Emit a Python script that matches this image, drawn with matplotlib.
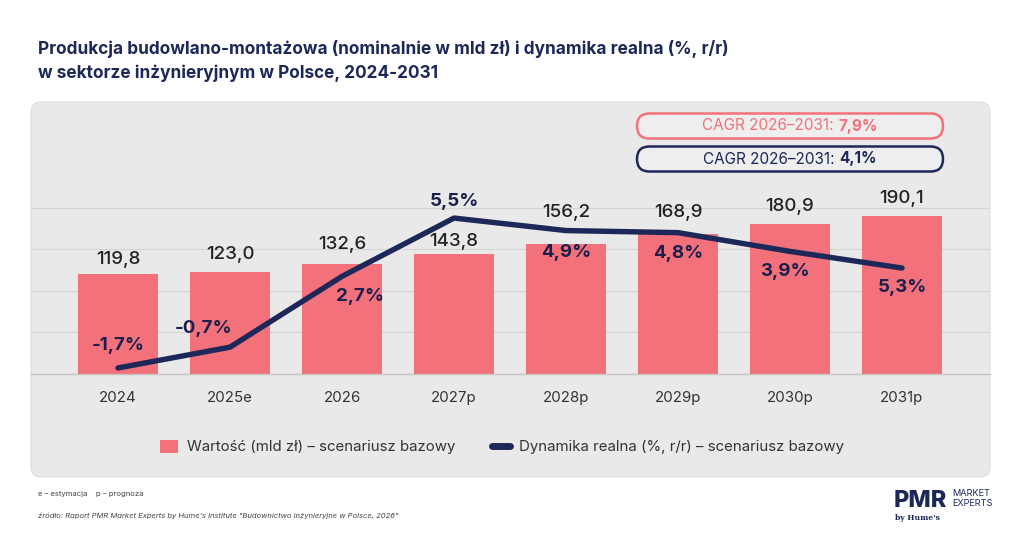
import matplotlib

matplotlib.use("Agg")

import matplotlib.pyplot as plt  # noqa: E402
from matplotlib.lines import Line2D  # noqa: E402
from matplotlib.patches import FancyBboxPatch, Patch  # noqa: E402

plt.rcParams["font.family"] = ["Inter", "DejaVu Sans"]

YEARS = ["2024", "2025e", "2026", "2027p", "2028p", "2029p", "2030p", "2031p"]
VALUES = [119.8, 123.0, 132.6, 143.8, 156.2, 168.9, 180.9, 190.1]
VALUE_LABELS = ["119,8", "123,0", "132,6", "143,8", "156,2", "168,9", "180,9", "190,1"]
# line as drawn in the source picture (last point sits lower than its label)
GROWTH = [-1.7, -0.7, 2.7, 5.5, 4.9, 4.8, 3.9, 3.1]
GROWTH_LABELS = ["-1,7%", "-0,7%", "2,7%", "5,5%", "4,9%", "4,8%", "3,9%", "5,3%"]
CAGR_VALUE = "7,9%"
CAGR_GROWTH = "4,1%"

# label placement (pixels, relative to the mark)
VALUE_DY = [15, 17, 19, 13, 32, 21, 17, 18]
GROWTH_DXY = [(0, 22), (-26, 19), (18, -20), (0, 17), (0, -22), (0, -21), (-5, -20), (0, -19)]

PINK = "#f2717a"
NAVY = "#1d2858"
PANEL = "#e9e9e9"
W, H = 1024, 536


def main() -> None:
    fig = plt.figure(figsize=(W / 100, H / 100), dpi=100)
    fig.patch.set_facecolor("white")

    # pixel-coordinate background layer
    bg = fig.add_axes([0, 0, 1, 1], zorder=0)
    bg.set_xlim(0, W)
    bg.set_ylim(H, 0)
    bg.axis("off")
    bg.add_patch(FancyBboxPatch((31, 102), 959, 375, boxstyle="round,pad=0,rounding_size=10",
                                fc=PANEL, ec="#dedede", lw=0.8))

    bg.text(38, 54, "Produkcja budowlano-montażowa (nominalnie w mld zł) i dynamika realna (%, r/r)",
            fontsize=12.4, fontweight="bold", color=NAVY, va="baseline")
    bg.text(38, 78, "w sektorze inżynieryjnym w Polsce, 2024-2031",
            fontsize=12.4, fontweight="bold", color=NAVY, va="baseline")

    # CAGR pills
    for yc, col, val in [(126, PINK, CAGR_VALUE), (159, NAVY, CAGR_GROWTH)]:
        bg.add_patch(FancyBboxPatch((637, yc - 12.5), 306, 25, boxstyle="round,pad=0,rounding_size=12.5",
                                    fc="#eeeeee", ec=col, lw=1.8))
        t1 = bg.text(0, yc, "CAGR 2026–2031: ", fontsize=11, color=col, va="center", ha="left")
        t2 = bg.text(0, yc, val, fontsize=11, color=col, va="center", ha="left", fontweight="bold")
        fig.canvas.draw()
        r = fig.canvas.get_renderer()
        w1 = t1.get_window_extent(r).width
        w2 = t2.get_window_extent(r).width
        x0 = 790 - (w1 + w2) / 2
        t1.set_x(x0)
        t2.set_x(x0 + w1)

    # footer
    bg.text(38, 494, "e – estymacja    p – prognoza", fontsize=5.5, color="#444444", va="center")
    bg.text(38, 516, "źródło: Raport PMR Market Experts by Hume's Institute \"Budownictwo inżynieryjne w Polsce, 2026\"",
            fontsize=5.5, color="#444444", va="center", style="italic")
    bg.text(894, 507, "PMR", fontsize=17, fontweight="heavy", color=NAVY, va="baseline")
    bg.text(952, 494, "MARKET", fontsize=6.6, color=NAVY, va="center")
    bg.text(952, 503, "EXPERTS", fontsize=6.6, color=NAVY, va="center")
    bg.text(895, 518, "by Hume's", fontsize=5.5, color=NAVY, va="center", family="DejaVu Serif",
            fontweight="bold")

    # chart
    ax = fig.add_axes([31 / W, (H - 374) / H, 959 / W, 203.6 / H], zorder=1)
    ax.set_facecolor("none")
    x = list(range(len(YEARS)))
    ax.bar(x, VALUES, width=0.714, color=PINK, zorder=2)
    ax.set_xlim(-0.777, 7.786)
    ax.set_ylim(0, 245)
    ax.set_yticks([50, 100, 150, 200])
    ax.yaxis.grid(True, color="#d4d4d4", lw=0.8, zorder=0)
    ax.set_xticks(x, YEARS)
    for s in ["top", "right", "left"]:
        ax.spines[s].set_visible(False)
    ax.spines["bottom"].set_color("#c4c4c4")
    ax.spines["bottom"].set_linewidth(1)

    for xi, v, lab, dy in zip(x, VALUES, VALUE_LABELS, VALUE_DY):
        ax.annotate(lab, (xi, v), xytext=(0, dy * 0.72), textcoords="offset points",
                    ha="center", va="center", fontsize=13.5, fontweight="medium", color="#222222",
                    zorder=5)

    ax2 = ax.twinx()
    ax2.set_ylim(-1.99, 7.79)
    ax2.axis("off")
    ax2.plot(x, GROWTH, color=NAVY, lw=3.9, solid_capstyle="round", solid_joinstyle="round", zorder=3)
    for xi, g, lab, (dx, dy) in zip(x, GROWTH, GROWTH_LABELS, GROWTH_DXY):
        ax2.annotate(lab, (xi, g), xytext=(dx * 0.72, dy * 0.72), textcoords="offset points",
                     ha="center", va="center", fontsize=13.5, fontweight="bold", color="#1c1f4d",
                     zorder=5)

    # twinx turns the left ticks back on
    ax.tick_params(axis="y", left=False, right=False, labelleft=False, labelright=False)
    ax.tick_params(axis="x", bottom=False, labelsize=10.8, labelcolor="#333333", pad=9)

    handles = [
        Patch(facecolor=PINK, edgecolor="none"),
        Line2D([0], [0], color=NAVY, lw=5, solid_capstyle="round"),
    ]
    fig.legend(handles, ["Wartość (mld zł) – scenariusz bazowy", "Dynamika realna (%, r/r) – scenariusz bazowy"],
               loc="center", bbox_to_anchor=(502 / W, 1 - 447 / H), ncol=2, frameon=False,
               fontsize=10.8, labelcolor="#333333", handlelength=1.2, handleheight=1.0,
               columnspacing=2.4, handletextpad=0.6)

    fig.savefig("out.png", dpi=100)
    plt.close(fig)


if __name__ == "__main__":
    main()
